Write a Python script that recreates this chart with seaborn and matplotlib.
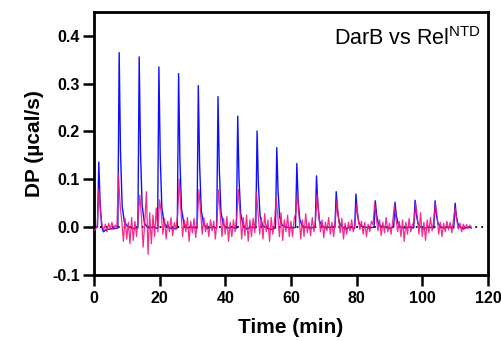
import numpy as np
import matplotlib
matplotlib.use("Agg")
import matplotlib.pyplot as plt
import seaborn as sns

# blue trace (DarB vs Rel NTD, main), time in min / DP in ucal/s
blue_time = [
    0.0, 1.1, 1.5, 1.9, 2.4, 2.9, 3.6, 5.0, 6.5,
    7.3, 7.7, 8.1, 8.6, 9.3, 10.5, 12.0, 13.4,
    13.8, 14.2, 14.7, 15.4, 16.5, 18.0, 19.4,
    19.8, 20.2, 20.7, 21.4, 22.5, 24.0, 25.4,
    25.8, 26.2, 26.7, 27.4, 28.5, 30.0, 31.4,
    31.8, 32.2, 32.7, 33.4, 34.5, 36.0, 37.4,
    37.8, 38.2, 38.7, 39.4, 40.5, 42.0, 43.4,
    43.8, 44.2, 44.7, 45.4, 46.5, 48.0, 49.3,
    49.7, 50.1, 50.6, 51.3, 52.5, 54.0, 55.3,
    55.7, 56.1, 56.6, 57.3, 58.5, 60.0, 61.4,
    61.8, 62.2, 62.7, 63.4, 64.5, 66.0, 67.4,
    67.8, 68.2, 68.7, 69.4, 70.5, 72.0, 73.4,
    73.8, 74.2, 74.7, 75.4, 76.5, 78.0, 79.4,
    79.8, 80.2, 80.7, 81.4, 82.5, 84.0, 85.3,
    85.7, 86.1, 86.6, 87.3, 88.5, 90.0, 91.3,
    91.7, 92.1, 92.6, 93.3, 94.5, 96.0, 97.4,
    97.8, 98.2, 98.7, 99.4, 100.5, 102.0, 103.5,
    103.9, 104.3, 104.8, 105.5, 106.5, 108.0, 109.6,
    110.0, 110.4, 110.9, 111.6, 112.5, 114.0, 115.0,
]
blue_dp = [
    0.002, 0.0, 0.136, 0.05, 0.0, -0.01, -0.006, -0.004, -0.003,
    -0.002, 0.365, 0.16, 0.045, 0.01, 0.0, -0.003, -0.002,
    0.356, 0.155, 0.045, 0.008, -0.002, 0.0, -0.003,
    0.335, 0.15, 0.04, 0.008, 0.0, -0.004, -0.002,
    0.321, 0.14, 0.038, 0.007, -0.002, 0.0, -0.003,
    0.296, 0.13, 0.035, 0.006, -0.003, 0.0, -0.002,
    0.273, 0.12, 0.032, 0.005, -0.002, 0.0, -0.003,
    0.232, 0.10, 0.028, 0.005, -0.004, 0.0, -0.002,
    0.201, 0.088, 0.024, 0.004, -0.002, -0.005, -0.002,
    0.166, 0.072, 0.02, 0.004, 0.0, -0.002, -0.001,
    0.133, 0.058, 0.016, 0.003, 0.0, -0.002, 0.0,
    0.107, 0.047, 0.013, 0.003, -0.002, 0.0, -0.001,
    0.074, 0.033, 0.01, 0.002, -0.004, 0.0, -0.003,
    0.069, 0.03, 0.009, 0.002, 0.0, -0.002, 0.0,
    0.055, 0.025, 0.008, 0.002, 0.0, -0.003, 0.0,
    0.052, 0.024, 0.008, 0.0, -0.002, 0.0, -0.002,
    0.056, 0.025, 0.008, 0.0, -0.003, 0.0, -0.002,
    0.055, 0.025, 0.008, 0.001, -0.002, 0.0, -0.002,
    0.05, 0.022, 0.006, 0.0, -0.004, 0.0, -0.002,
]

# magenta trace, sampled every 0.5 min from 0 to 115
pink_dp = [
    -0.008, -0.004, 0.0, 0.08, 0.03, 0.004, -0.006, 0.006, -0.01, 0.008, -0.004, 0.01,
    -0.005, 0.004, -0.002, 0.109, 0.045, 0.012, -0.03, 0.018, -0.025, 0.01, -0.035, 0.02,
    -0.028, 0.012, -0.02, 0.02, 0.067, 0.02, -0.042, 0.01, 0.074, -0.057, 0.03, -0.035,
    0.025, -0.02, 0.04, -0.01, 0.057, 0.03, -0.015, 0.018, -0.025, 0.012, -0.01, 0.02,
    -0.018, 0.01, -0.006, 0.025, 0.10, 0.035, -0.02, 0.015, -0.01, 0.02, -0.03, 0.012,
    -0.012, 0.018, -0.022, 0.01, 0.078, 0.03, -0.015, 0.02, -0.01, 0.008, -0.02, 0.015,
    -0.008, 0.012, -0.025, 0.015, 0.078, 0.025, -0.02, 0.018, -0.015, 0.022, -0.03, 0.01,
    -0.02, 0.015, -0.01, 0.02, 0.078, 0.03, -0.025, 0.02, -0.018, 0.025, -0.03, 0.015,
    -0.02, 0.018, -0.012, 0.072, 0.03, -0.015, 0.02, -0.025, 0.028, -0.01, 0.015, -0.03,
    0.02, -0.015, 0.01, 0.06, 0.025, -0.02, 0.03, -0.028, 0.015, -0.01, 0.025, -0.02,
    0.012, -0.02, 0.018, 0.03, 0.069, 0.02, -0.025, 0.015, -0.02, 0.028, -0.012, 0.01,
    -0.018, 0.02, -0.01, 0.015, 0.07, 0.025, -0.01, 0.015, -0.022, 0.01, -0.008, 0.02,
    -0.015, 0.01, -0.02, 0.012, 0.057, 0.02, -0.012, 0.018, -0.025, 0.008, -0.015, 0.01,
    -0.008, 0.015, -0.01, 0.005, 0.048, 0.018, -0.005, 0.012, -0.015, 0.01, -0.02, 0.006,
    -0.01, 0.012, 0.005, 0.05, 0.02, -0.008, 0.015, -0.018, 0.01, -0.012, 0.02, -0.01,
    0.008, -0.015, 0.012, 0.045, 0.018, -0.01, 0.012, -0.02, 0.015, -0.03, 0.01, -0.015,
    0.018, -0.01, 0.005, 0.012, 0.05, 0.02, -0.015, 0.03, -0.02, 0.01, -0.028, 0.015,
    -0.012, 0.02, -0.008, 0.015, 0.05, 0.025, -0.015, 0.01, -0.02, 0.008, -0.01, 0.012,
    -0.006, 0.01, -0.012, 0.015, 0.04, 0.015, -0.004, 0.008, -0.01, 0.006, -0.004, 0.005,
    -0.003, 0.004, -0.002,
]
pink_time = np.linspace(0, 115, len(pink_dp))

x_ticks = [0, 20, 40, 60, 80, 100, 120]
y_ticks = [-0.1, 0.0, 0.1, 0.2, 0.3, 0.4]

sns.set_theme(style="ticks")
plt.rcParams["font.family"] = ["Liberation Sans", "DejaVu Sans"]
plt.rcParams["text.color"] = "black"
plt.rcParams["axes.labelcolor"] = "black"

fig = plt.figure(figsize=(5.02, 3.41), dpi=100)
ax = fig.add_axes([0.187, 0.194, 0.785, 0.771])

ax.axhline(0, color="black", lw=1.3, ls=(0, (1, 2.3)), zorder=1)
sns.lineplot(x=blue_time, y=blue_dp, color="#1010ff", lw=1.0, estimator=None,
             sort=False, ax=ax, zorder=2)
sns.lineplot(x=pink_time, y=pink_dp, color="#f5157f", lw=0.9, alpha=0.9,
             estimator=None, sort=False, ax=ax, zorder=3)

ax.set_xlim(0, 120)
ax.set_ylim(-0.1, 0.45)
ax.set_xticks(x_ticks)
ax.set_yticks(y_ticks)
ax.set_yticklabels([f"{v:.1f}" for v in y_ticks])

for s in ax.spines.values():
    s.set_linewidth(2.0)
    s.set_color("black")
ax.tick_params(width=1.8, length=8, labelsize=11.5, color="black",
               labelcolor="black")
ax.tick_params(axis="y", pad=2)
for lbl in ax.get_xticklabels() + ax.get_yticklabels():
    lbl.set_fontweight("bold")

ax.set_xlabel("Time (min)", fontsize=15, fontweight="bold", labelpad=9)
ax.set_ylabel("DP (µcal/s)", fontsize=15, fontweight="bold", labelpad=6)

ax.text(118, 0.381, r"DarB vs Rel$^{\mathregular{NTD}}$", ha="right",
        va="baseline", fontsize=15.5)

fig.savefig("out.png", dpi=100)
